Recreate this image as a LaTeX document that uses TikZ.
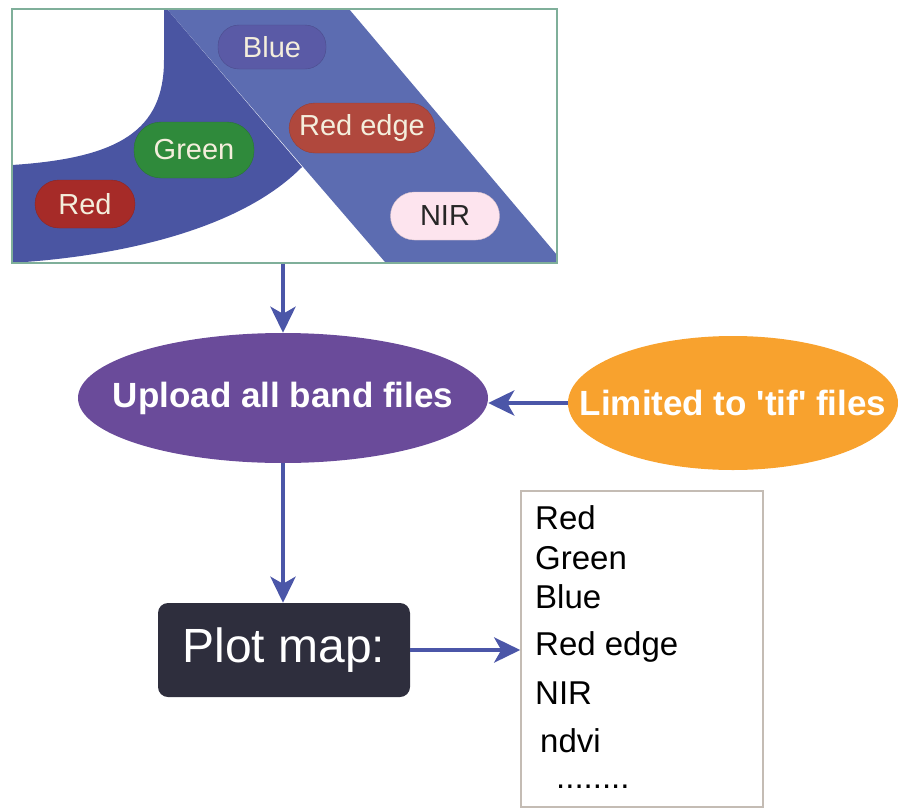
\documentclass[tikz,border=0pt]{standalone}
\usepackage{fontspec}
\setmainfont{Liberation Sans}
\usetikzlibrary{shapes.geometric,arrows.meta}
\definecolor{frameC}{HTML}{7FAF9A}
\definecolor{bandL}{HTML}{4A55A2}
\definecolor{bandR}{HTML}{5C6CB1}
\definecolor{pillBlue}{HTML}{5A5AA6}
\definecolor{pillGreen}{HTML}{2F8A3B}
\definecolor{pillRed}{HTML}{A62B28}
\definecolor{pillRedEdge}{HTML}{B0483D}
\definecolor{pillNIR}{HTML}{FDE4EE}
\definecolor{pillText}{HTML}{F4EEDC}
\definecolor{arrC}{HTML}{4B56A8}
\definecolor{uploadC}{HTML}{6A4B9A}
\definecolor{limC}{HTML}{F8A22E}
\definecolor{plotC}{HTML}{2E2E3D}
\definecolor{listBorder}{HTML}{C4BCB4}
\tikzset{
  pill/.style={rectangle, rounded corners=#1, inner sep=0pt, text=pillText,
    font=\fontsize{29}{31}\selectfont},
  arr/.style={draw=arrC, line width=4.5pt, -{Stealth[length=26pt,width=25pt,inset=7pt]}},
  bigtxt/.style={font=\fontsize{35}{38}\selectfont\bfseries, text=white},
  listtxt/.style={anchor=base west, inner sep=0pt, font=\fontsize{33}{36}\selectfont, text=black}
}
\begin{document}
\begin{tikzpicture}[x=1pt,y=-1pt]
\useasboundingbox (0,0) rectangle (898,812);
% bands
\fill[bandL] (164,9) -- (164,60) .. controls (164,130) and (120,158) .. (12,165)
  -- (12,262) -- (25,262) .. controls (120,255) and (240,230) .. (302,167)
  -- (167,9) -- cycle;
\fill[bandR] (167,9) -- (349,9) -- (557,255) -- (557,262) -- (385,262) -- cycle;
% frame
\node[draw=frameC, line width=2pt, minimum width=545pt, minimum height=254pt, inner sep=0pt] (frame) at (284.5,135.5) {};
% pills
\node[pill=21pt, fill=pillBlue, draw=pillBlue!85!black, minimum width=108pt, minimum height=44pt] (blue) at (272,47) {Blue};
\node[pill=26pt, fill=pillRedEdge, draw=pillRedEdge!85!black, minimum width=146pt, minimum height=50pt] (rededge) at (362,128) {Red edge};
\node[pill=27pt, fill=pillGreen, draw=pillGreen!85!black, minimum width=120pt, minimum height=56pt] (green) at (194,150) {Green};
\node[pill=24pt, fill=pillRed, draw=pillRed!85!black, minimum width=100pt, minimum height=48pt] (red) at (85,204) {Red};
\node[pill=24pt, fill=pillNIR, draw=pillNIR!85!black, text=black!85, minimum width=109pt, minimum height=48pt] (nir) at (445,216) {NIR};
% main flow
\node[ellipse, fill=uploadC, minimum width=410pt, minimum height=130pt, inner sep=0pt, bigtxt] (upload) at (283,398) {\makebox[0pt]{Upload all band files}};
\node[ellipse, fill=limC, minimum width=330pt, minimum height=134pt, inner sep=0pt, bigtxt] (lim) at (733,403) {\makebox[0pt]{Limited to \textquotesingle tif\textquotesingle\ files}};
\node[rectangle, rounded corners=10pt, fill=plotC, minimum width=252pt, minimum height=94pt, inner sep=0pt, text=white, font=\fontsize{48}{52}\selectfont] (plot) at (284,650) {Plot map:};
\node[rectangle, draw=listBorder, line width=1.5pt, fill=white, minimum width=242pt, minimum height=316pt, inner sep=0pt] (list) at (642,649) {};
% list text
\node[listtxt] (l1) at (535,529) {Red};
\node[listtxt] (l2) at (535,569) {Green};
\node[listtxt] (l3) at (535,608) {Blue};
\node[listtxt] (l4) at (535,655) {Red edge};
\node[listtxt] (l5) at (535,704) {NIR};
\node[listtxt] (l6) at (540,752) {ndvi};
\node[listtxt] (l7) at (556,788) {........};
% connectors
\draw[arr] (frame.south -| upload.north) -- (upload.north);
\draw[arr] (lim.west) -- (lim.west -| upload.east);
\draw[arr] (upload.south) -- (upload.south |- plot.north);
\draw[arr] (plot.east) -- (plot.east -| list.west);
\end{tikzpicture}
\end{document}
